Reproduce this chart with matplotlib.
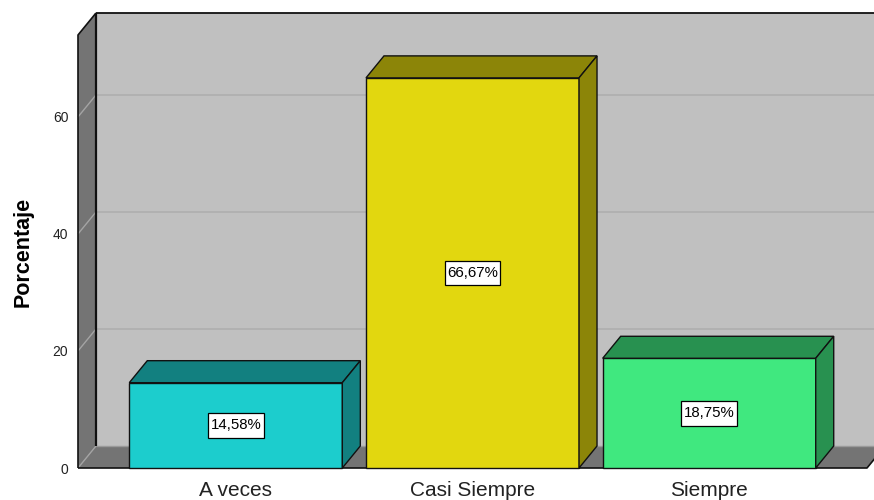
import matplotlib
matplotlib.use("Agg")
import matplotlib.pyplot as plt
from matplotlib.patches import Polygon
from matplotlib.path import Path

plt.rcParams['font.family'] = ['Liberation Sans', 'DejaVu Sans']

# Data
categories = ["A veces", "Casi Siempre", "Siempre"]
percentages = [14.58, 66.67, 18.75]
value_labels = ["14,58%", "66,67%", "18,75%"]
y_ticks = [0, 20, 40, 60]

# Styles
front_colors = ["#1ccdcd", "#e2d70f", "#40e87f"]
shade_colors = ["#128080", "#8c8508", "#289150"]
wall_back = "#c0c0c0"
wall_dark = "#747474"
grid_back = "#adadad"
grid_side = "#a4a4a4"
edge = "#111111"
bar_width = 0.9
depth_px = (18, 22)          # 3-D depth offset in pixels (right, up)

W, H, DPI = 874, 500, 100
fig = plt.figure(figsize=(W / DPI, H / DPI), dpi=DPI)
fig.patch.set_facecolor("white")

# Axes = front plane of the 3-D box
left_px, right_px, bottom_px, top_px = 78, 867, 468, 35
ax = fig.add_axes([left_px / W, (H - bottom_px) / H,
                   (right_px - left_px) / W, (bottom_px - top_px) / H])
x0, x1 = -2 / 3, 8 / 3
y0, y1 = 0, 74
ax.set_xlim(x0, x1)
ax.set_ylim(y0, y1)
ax.set_facecolor("none")
for s in ax.spines.values():
    s.set_visible(False)

# depth offset in data units
ux = (right_px - left_px) / (x1 - x0)
uy = (bottom_px - top_px) / (y1 - y0)
dx = depth_px[0] / ux
dy = depth_px[1] / uy


def poly(pts, fc, ec="none", lw=0.0, z=1):
    p = Polygon(pts, closed=True, facecolor=fc, edgecolor=ec, linewidth=lw,
                clip_on=False, zorder=z, joinstyle="miter")
    ax.add_patch(p)
    return p


def line(xs, ys, c, lw, z):
    ax.plot(xs, ys, color=c, linewidth=lw, clip_on=False, zorder=z,
            solid_capstyle="butt")


xr = x1 + dx + 0.2  # back wall runs off the right side

# back wall
poly([(x0 + dx, y0 + dy), (xr, y0 + dy), (xr, y1 + dy), (x0 + dx, y1 + dy)],
     wall_back, z=1)
for g in y_ticks[1:]:
    line([x0 + dx, xr], [g + dy, g + dy], grid_back, 1.1, 2)
line([x0 + dx, xr], [y1 + dy, y1 + dy], edge, 1.3, 3)

# left wall
poly([(x0, y0), (x0, y1), (x0 + dx, y1 + dy), (x0 + dx, y0 + dy)], wall_dark, z=3)
for g in y_ticks[1:]:
    line([x0, x0 + dx], [g, g + dy], grid_side, 1.0, 4)
line([x0, x0 + dx], [y0, y0 + dy], grid_side, 1.0, 4)
line([x0, x0, x0 + dx], [y0, y1, y1 + dy], edge, 1.2, 5)
line([x0 + dx, x0 + dx], [y0 + dy, y1 + dy], edge, 1.6, 5)

# floor
poly([(x0, y0), (x1, y0), (x1 + dx, y0 + dy), (x0 + dx, y0 + dy)], wall_dark, z=3)
line([x0 + dx, x1 + dx], [y0 + dy, y0 + dy], "#9a9a9a", 1.0, 4)
line([x0, x1, x1 + dx], [y0, y0, y0 + dy], edge, 1.2, 5)

# bars
for i, (v, fc, sc) in enumerate(zip(percentages, front_colors, shade_colors)):
    a, b = i - bar_width / 2, i + bar_width / 2
    poly([(a, 0), (b, 0), (b, v), (a, v)], fc, edge, 1.0, 6)
    poly([(a, v), (b, v), (b + dx, v + dy), (a + dx, v + dy)], sc, edge, 1.0, 6)
    poly([(b, 0), (b, v), (b + dx, v + dy), (b + dx, dy)], sc, edge, 1.0, 6)


def label_box(bx, by, width, height, mutation_size):
    px = 0.17 * mutation_size
    py = 0.36 * mutation_size
    verts = [(bx - px, by - py), (bx + width + px, by - py),
             (bx + width + px, by + height + py), (bx - px, by + height + py),
             (bx - px, by - py)]
    return Path(verts, closed=True)


for i, (v, lab) in enumerate(zip(percentages, value_labels)):
    ax.text(i, v / 2, lab, ha="center", va="center", fontsize=10.8,
            color="black", zorder=8,
            bbox=dict(boxstyle=label_box, facecolor="white",
                      edgecolor="black", linewidth=0.9))

# axes text
ax.set_yticks(y_ticks)
ax.set_yticklabels([str(t) for t in y_ticks])
ax.set_xticks(range(len(categories)))
ax.set_xticklabels(categories)
ax.tick_params(axis="y", length=0, pad=7, labelsize=10, labelcolor="#222222")
ax.tick_params(axis="x", length=0, pad=9, labelsize=15, labelcolor="#222222")
ax.set_ylabel("Porcentaje", fontsize=15.5, fontweight="bold", color="black",
              labelpad=14)

fig.savefig("out.png", dpi=DPI)
